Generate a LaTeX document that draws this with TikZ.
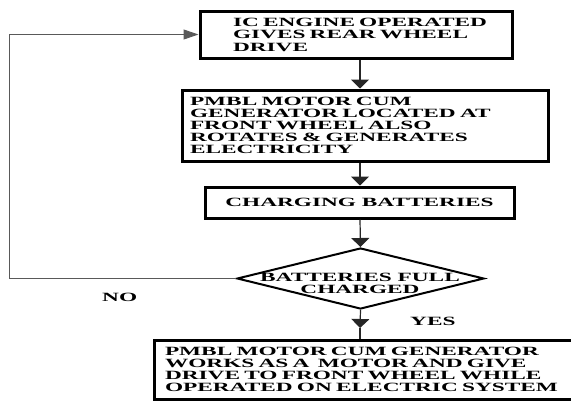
\documentclass[tikz,border=0pt]{standalone}
\usepackage{fontspec}
\setmainfont{Liberation Serif}[FakeStretch=1.85]
\usetikzlibrary{arrows.meta,shapes.geometric}
\tikzset{
  txt/.style={font=\fontsize{12.6}{12}\selectfont\bfseries, text=black},
  box/.style={txt, draw=black, line width=3pt, rectangle, inner sep=0pt},
  conn/.style={draw=black!85, line width=1.2pt},
  vtip/.style={-{Triangle[length=9pt,width=18pt]}},
  htip/.style={-{Triangle[length=15pt,width=10pt]}},
}
\begin{document}
\begin{tikzpicture}[x=1pt,y=-1pt]
\useasboundingbox (0,0) rectangle (571,400);
% boxes
\node[box, minimum width=312pt, minimum height=47pt, text width=246pt, align=left,
      font=\fontsize{12.6}{12.5}\selectfont\bfseries] (b1) at (356,34.5)
  {\mbox{IC ENGINE OPERATED}\\\mbox{GIVES REAR WHEEL}\\\mbox{DRIVE}};
\node[box, minimum width=366pt, minimum height=71pt, text width=350pt, align=left] (b2) at (365,125.5)
  {\mbox{PMBL MOTOR CUM}\\\mbox{GENERATOR LOCATED AT}\\\mbox{FRONT WHEEL ALSO}\\\mbox{ROTATES \& GENERATES}\\\mbox{ELECTRICITY}};
\node[box, minimum width=309pt, minimum height=31pt, align=center] (b3) at (359.5,202.5)
  {CHARGING BATTERIES};
\node[diamond, draw=black, line width=2pt, minimum width=247pt, minimum height=61pt, inner sep=0pt] (d) at (360.5,278.5) {};
\node[txt, align=center, inner sep=0pt] (dt) at (360,283) {BATTERIES FULL\\CHARGED};
\node[box, minimum width=446pt, minimum height=59pt, text width=424pt, align=left] (b4) at (377,369.5)
  {\mbox{PMBL MOTOR CUM GENERATOR}\\\mbox{WORKS AS A\ \ MOTOR AND GIVE}\\\mbox{DRIVE TO FRONT WHEEL WHILE}\\\mbox{OPERATED ON ELECTRIC SYSTEM}};
% labels
\node[txt, anchor=base west, inner sep=0pt] (no) at (102,301) {NO};
\node[txt, anchor=base west, inner sep=0pt] (yes) at (410,325) {YES};
% connectors
\coordinate (ax) at (360,0);
\coordinate (mid) at (360,328);
\coordinate (lc) at (9,34.5);
\draw[conn, vtip] (b1.south -| ax) -- (b2.north -| ax);
\draw[conn, vtip] (b2.south -| ax) -- (b3.north -| ax);
\draw[conn, vtip] (b3.south -| ax) -- (d.north);
\draw[conn, vtip] (d.south) -- (mid);
\draw[conn] (mid) -- (b4.north -| mid);
\draw[conn, draw=black!65, line width=1pt, htip] (d.west) -| (lc) -- (b1.west);
\end{tikzpicture}
\end{document}
